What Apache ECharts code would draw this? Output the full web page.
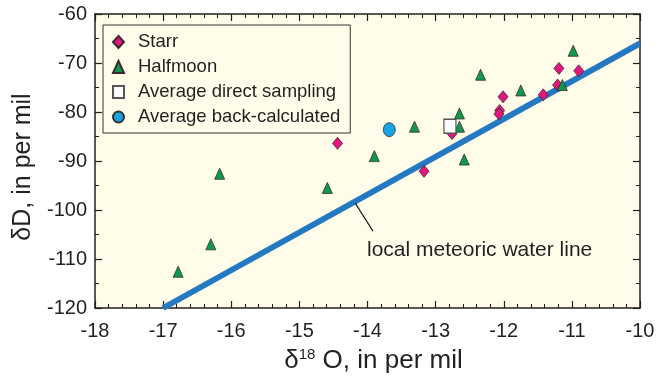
<!DOCTYPE html>
<html>
<head>
<meta charset="utf-8">
<script src="https://cdn.jsdelivr.net/npm/echarts@6/dist/echarts.min.js"></script>
<style>
html,body{margin:0;padding:0;background:#fff;}
#c{width:661px;height:381px;}
</style>
</head>
<body>
<div id="c"></div>
<script>
// ---- data ----
const starrO = [-14.44, -13.17, -12.76, -12.06, -12.07, -12.01, -11.42, -11.21, -11.19, -10.90];
const starrD = [-86.4, -92.1, -84.4, -79.7, -80.4, -76.9, -76.5, -74.5, -71.1, -71.6];
const halfO = [-16.78, -16.30, -16.17, -14.59, -13.90, -13.31, -12.65, -12.65, -12.58, -12.34, -11.75, -11.14, -10.98];
const halfD = [-112.6, -107.0, -92.6, -95.5, -89.0, -83.0, -83.0, -80.3, -89.7, -72.4, -75.6, -74.5, -67.5];
const directO = [-12.79];
const directD = [-82.9];
const backO = [-13.68];
const backD = [-83.6];
const lmwlO = [-17, -10];
const lmwlD = [-120, -66];
const leaderO = [-14.18, -13.92];
const leaderD = [-98.6, -104.3];
const xTicks = [-18, -17, -16, -15, -14, -13, -12, -11, -10];
const yTicks = [-120, -110, -100, -90, -80, -70, -60];
const seriesNames = ['Starr', 'Halfmoon', 'Average direct sampling', 'Average back-calculated'];
const annotationText = 'local meteoric water line';

const zip = (a, b) => a.map((v, i) => [v, b[i]]);
const TXT = '#231F20';
const AX = '#231F20';
const FONT = '"Liberation Sans", Arial, Helvetica, sans-serif';

const chart = echarts.init(document.getElementById('c'), null, {renderer: 'canvas'});

function mkX(pos, showLabel) {
  return {
    type: 'value', position: pos, min: xTicks[0], max: xTicks[xTicks.length - 1], interval: 1,
    axisLine: {show: true, onZero: false, lineStyle: {color: AX, width: 1.5}},
    axisTick: {show: true, inside: true, length: 7, lineStyle: {color: AX, width: 1.2}},
    minorTick: {show: true, splitNumber: 5, length: 4, lineStyle: {color: AX, width: 1}},
    axisLabel: {show: showLabel, color: TXT, fontSize: 20, fontFamily: FONT, margin: 13,
      formatter: v => xTicks.includes(v) ? String(v) : ''},
    splitLine: {show: false}
  };
}
function mkY(pos, showLabel) {
  return {
    type: 'value', position: pos, min: yTicks[0], max: yTicks[yTicks.length - 1], interval: 10,
    axisLine: {show: true, onZero: false, lineStyle: {color: AX, width: 1.5}},
    axisTick: {show: true, inside: true, length: 7, lineStyle: {color: AX, width: 1.2}},
    minorTick: {show: true, splitNumber: 2, length: 4, lineStyle: {color: AX, width: 1}},
    axisLabel: {show: showLabel, color: TXT, fontSize: 20, fontFamily: FONT, margin: 8,
      formatter: v => yTicks.includes(v) ? String(v) : ''},
    splitLine: {show: false}
  };
}

const xMain = mkX('bottom', true);
xMain.name = '{d|δ}{s|18}{n| O, in per mil}';
xMain.nameLocation = 'middle';
xMain.nameGap = 36;
xMain.nameTextStyle = {
  color: TXT, fontFamily: FONT, fontSize: 26, padding: [0, 0, 0, 12],
  rich: {
    d: {fontSize: 26, fontFamily: FONT, color: TXT, lineHeight: 28, verticalAlign: 'bottom'},
    s: {fontSize: 15, fontFamily: FONT, color: TXT, lineHeight: 28, verticalAlign: 'top', padding: [1, 0, 0, 0]},
    n: {fontSize: 26, fontFamily: FONT, color: TXT, lineHeight: 28, verticalAlign: 'bottom'}
  }
};
const yMain = mkY('left', true);
yMain.name = 'δD, in per mil';
yMain.nameLocation = 'middle';
yMain.nameGap = 49;
yMain.nameTextStyle = {color: TXT, fontFamily: FONT, fontSize: 25, padding: [0, 12, 0, 0]};

const edge = {borderColor: '#3a2a30', borderWidth: 0.8};

chart.setOption({
  backgroundColor: '#ffffff',
  animation: false,
  grid: {left: 95, right: 21, top: 14, bottom: 73, show: true, backgroundColor: '#FFFCE9', borderWidth: 0},
  xAxis: [xMain, mkX('top', false)],
  yAxis: [yMain, mkY('right', false)],
  legend: {
    show: true, orient: 'vertical', left: 103, top: 25,
    data: seriesNames,
    borderColor: '#333', borderWidth: 1, backgroundColor: 'transparent',
    padding: [7, 10, 6, 9], itemGap: 5, itemWidth: 11, itemHeight: 12,
    textStyle: {color: TXT, fontSize: 18.5, fontFamily: FONT, lineHeight: 20, padding: [0, 0, 0, 9]}
  },
  series: [
    {
      name: 'lmwl', type: 'line', data: zip(lmwlO, lmwlD), symbol: 'none', z: 1,
      lineStyle: {color: '#2479C2', width: 6, cap: 'butt'}, silent: true, clip: true
    },
    {
      name: 'leader', type: 'line', data: zip(leaderO, leaderD), symbol: 'none', z: 1,
      lineStyle: {color: '#231F20', width: 1.2}, silent: true
    },
    {
      name: seriesNames[0], type: 'scatter', data: zip(starrO, starrD), symbol: 'diamond',
      symbolSize: [10, 12], itemStyle: Object.assign({color: '#E2167E', opacity: 1}, edge), z: 3
    },
    {
      name: seriesNames[1], type: 'scatter', data: zip(halfO, halfD), symbol: 'triangle',
      symbolSize: [10, 11], itemStyle: Object.assign({color: '#0F9A4B', opacity: 1}, edge), z: 3
    },
    {
      name: seriesNames[2], type: 'scatter', data: zip(directO, directD), symbol: 'rect',
      symbolSize: [12, 14], itemStyle: {color: '#FBFBFB', borderColor: '#555', borderWidth: 1.3, opacity: 1}, z: 3
    },
    {
      name: seriesNames[3], type: 'scatter', data: zip(backO, backD), symbol: 'circle',
      symbolSize: [12, 14], itemStyle: {color: '#17A3E6', borderColor: '#333', borderWidth: 0.8, opacity: 1}, z: 3
    }
  ],
  graphic: [
    {
      type: 'text', left: 367, top: 240, silent: true,
      style: {text: annotationText, fill: TXT, fontSize: 21, fontFamily: FONT}
    }
  ]
});
</script>
</body>
</html>
